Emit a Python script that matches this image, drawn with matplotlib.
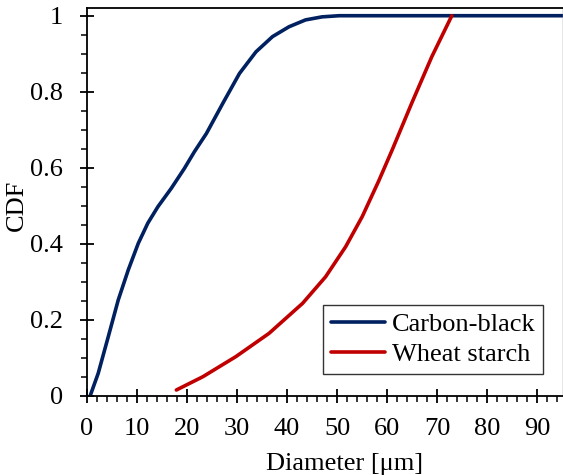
import matplotlib
matplotlib.use("Agg")
import matplotlib.pyplot as plt
from matplotlib.ticker import MultipleLocator, FuncFormatter

plt.rcParams['font.family'] = ['Liberation Serif', 'DejaVu Serif']

# Data
cb_x = [0.7, 2.3, 4.3, 6.3, 8.3, 10.3, 12.2, 14.2, 16.9, 19.5, 21.5, 23.9, 27.2,
        30.5, 33.8, 37.1, 40.4, 43.7, 47.0, 50.4, 60, 70, 80, 95]
cb_y = [0.0, 0.059, 0.155, 0.252, 0.331, 0.401, 0.454, 0.497, 0.546, 0.598, 0.642,
        0.69, 0.77, 0.848, 0.905, 0.945, 0.971, 0.989, 0.997, 1.0, 1.0, 1.0, 1.0, 1.0]

ws_x = [17.9, 23.2, 29.8, 36.4, 43.1, 47.7, 51.7, 55.0, 58.3, 61.0, 64.9, 68.9, 72.9]
ws_y = [0.015, 0.05, 0.103, 0.164, 0.243, 0.313, 0.392, 0.471, 0.565, 0.647, 0.77,
        0.892, 1.0]

labels = ["Carbon-black", "Wheat starch"]
colors = ["#002060", "#C00000"]

fig = plt.figure(figsize=(5.63, 4.75), dpi=100)
ax = fig.add_axes([86.7/563, (475-395.7)/475, (562.5-86.7)/563, (395.7-8)/475])

ax.plot(cb_x, cb_y, color=colors[0], lw=2.6, label=labels[0], solid_capstyle='round')
ax.plot(ws_x, ws_y, color=colors[1], lw=2.6, label=labels[1], solid_capstyle='round')

ax.set_xlim(0, 95)
ax.set_ylim(0, 1.0203)

ax.xaxis.set_major_locator(MultipleLocator(10))
ax.xaxis.set_minor_locator(MultipleLocator(2))
ax.yaxis.set_major_locator(MultipleLocator(0.2))
ax.yaxis.set_minor_locator(MultipleLocator(0.05))

def yfmt(v, pos):
    if abs(v) < 1e-9:
        return "0"
    if abs(v - 1) < 1e-9:
        return "1"
    return f"{v:.1f}"
ax.yaxis.set_major_formatter(FuncFormatter(yfmt))

FS = 19
ax.tick_params(which='major', direction='inout', length=10, width=1.3,
               labelsize=FS, top=False, right=False)
ax.tick_params(axis='y', which='major', pad=12)
ax.tick_params(axis='x', which='major', pad=11)
ax.tick_params(which='minor', direction='out', length=4.3, width=1.1,
               top=False, right=False)

for s in ['left', 'bottom', 'top']:
    ax.spines[s].set_linewidth(1.3)
ax.spines['right'].set_linewidth(1.0)
ax.spines['right'].set_color('#808080')

ax.set_xlabel("Diameter [μm]", fontsize=FS, va='baseline', ha='center')
ax.xaxis.set_label_coords(0.542, -(470 - 395.7) / 387.7)
ax.set_ylabel("CDF", fontsize=FS, va='center', ha='center')
ax.yaxis.set_label_coords((17 - 86.7) / 475.8, (395.7 - 205) / 387.7)

leg = ax.legend(loc='lower right', bbox_to_anchor=(0.96, 0.055), borderaxespad=0,
                fontsize=FS, frameon=True, fancybox=False, edgecolor='black',
                handlelength=2.05, handletextpad=0.25, labelspacing=0.25,
                borderpad=0.3)
leg.get_frame().set_linewidth(1.0)

fig.savefig("out.png", dpi=100)
